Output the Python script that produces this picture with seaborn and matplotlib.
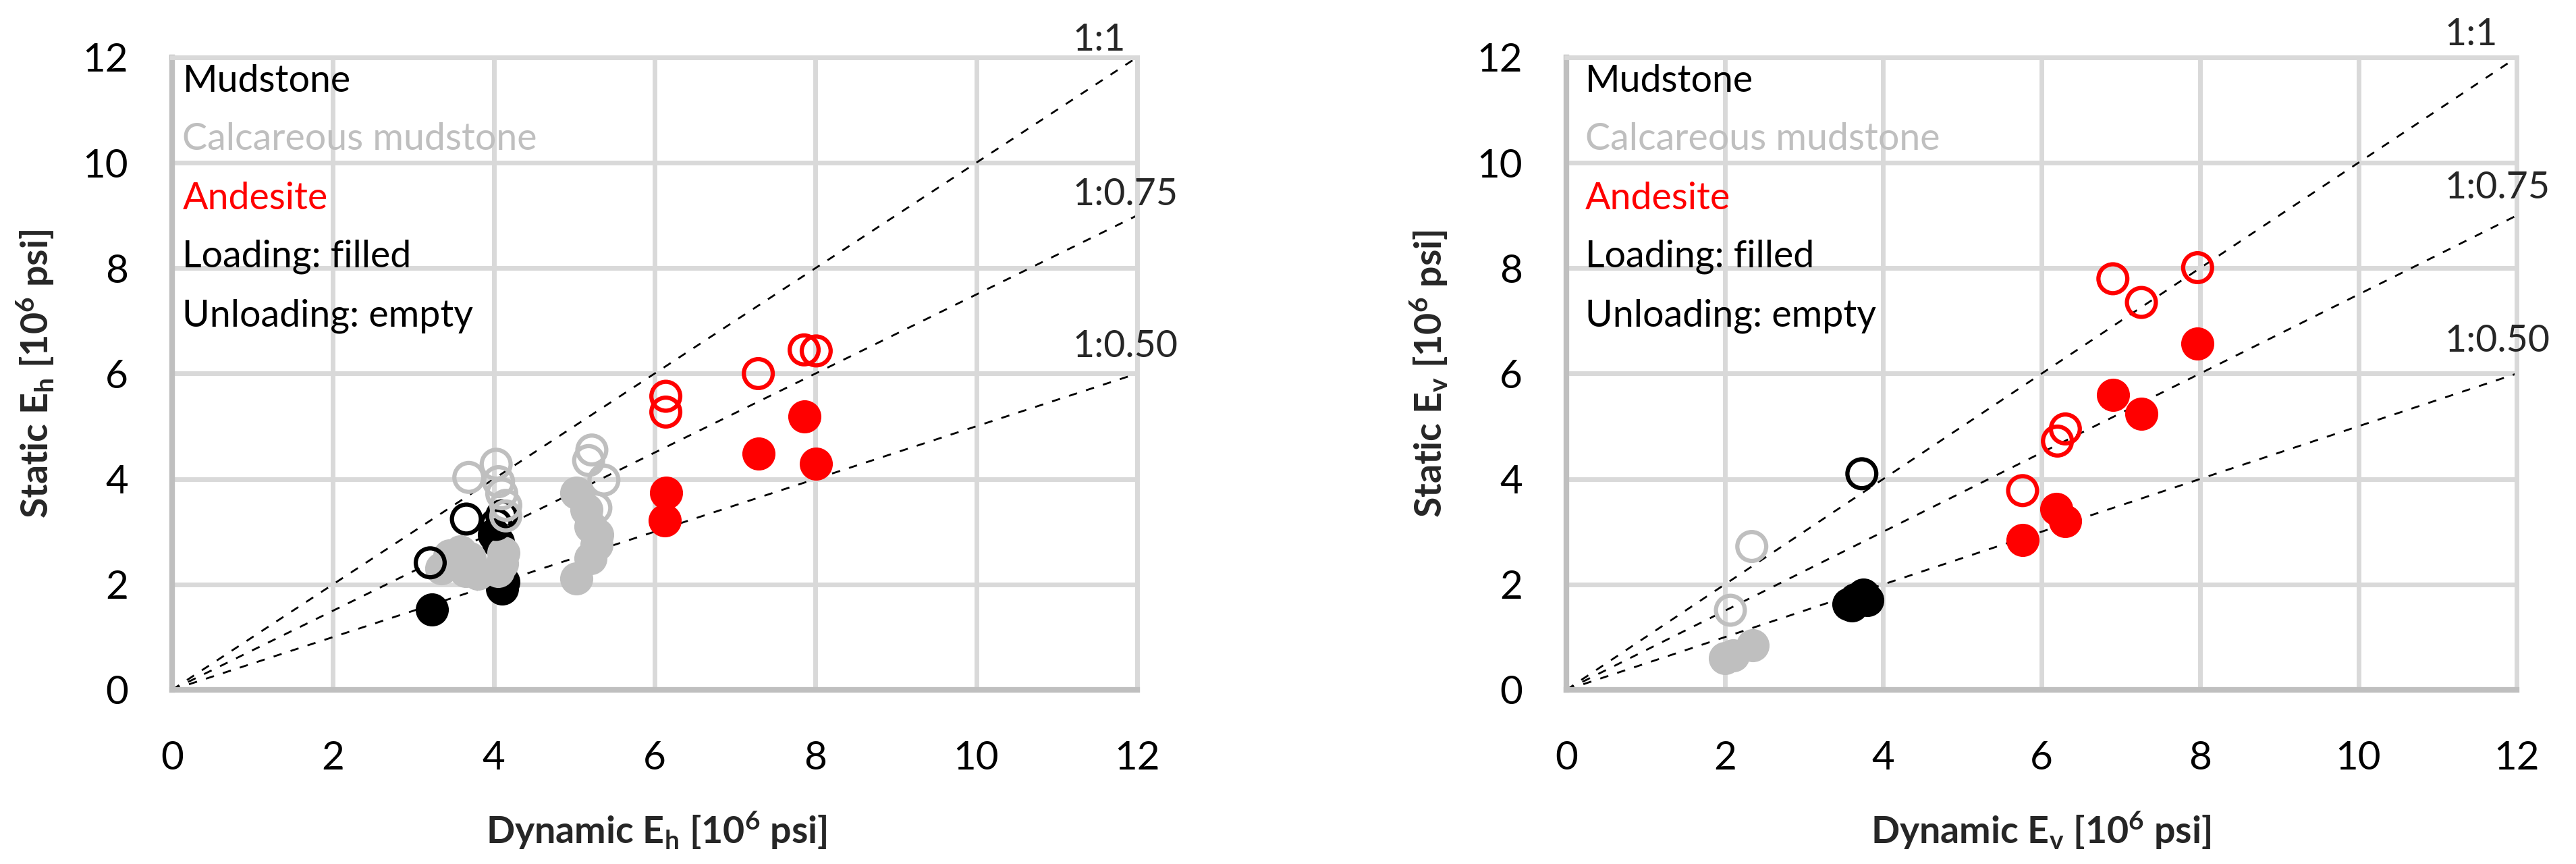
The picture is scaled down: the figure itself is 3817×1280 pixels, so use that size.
import numpy as np
import pandas as pd
import matplotlib
matplotlib.use('Agg')
import matplotlib.pyplot as plt
import seaborn as sns

# ---- data (10^6 psi) ----
rocks = ['Mudstone', 'Calcareous mudstone', 'Andesite']
rock_colors = {'Mudstone': '#000000', 'Calcareous mudstone': '#BFBFBF', 'Andesite': '#FF0000'}
ratios = [1.0, 0.75, 0.50]
ratio_labels = ['1:1', '1:0.75', '1:0.50']
ticks = [0, 2, 4, 6, 8, 10, 12]

# horizontal modulus
mud_load_h_dyn = [3.23, 4.10, 4.12, 4.05, 4.00]
mud_load_h_sta = [1.52, 1.92, 2.05, 2.80, 2.95]
mud_unload_h_dyn = [3.21, 3.66, 4.03, 4.10]
mud_unload_h_sta = [2.41, 3.24, 3.14, 3.30]
calc_load_h_dyn = [3.35, 3.45, 3.58, 3.70, 3.65, 3.80, 4.10, 4.12, 4.05,
                   5.03, 5.15, 5.20, 5.29, 5.28, 5.20, 5.03]
calc_load_h_sta = [2.30, 2.55, 2.62, 2.50, 2.25, 2.20, 2.40, 2.60, 2.25,
                   3.74, 3.42, 3.10, 2.95, 2.75, 2.50, 2.11]
calc_unload_h_dyn = [3.69, 4.03, 4.06, 4.10, 4.15, 4.15, 5.22, 5.18, 5.37, 5.27]
calc_unload_h_sta = [4.03, 4.28, 3.95, 3.72, 3.50, 3.30, 4.55, 4.35, 3.98, 3.45]
and_load_h_dyn = [6.14, 6.13, 7.29, 7.86, 8.01]
and_load_h_sta = [3.74, 3.22, 4.48, 5.19, 4.29]
and_unload_h_dyn = [6.14, 6.14, 7.29, 7.86, 8.01]
and_unload_h_sta = [5.57, 5.27, 6.00, 6.45, 6.43]

# vertical modulus
mud_load_v_dyn = [3.56, 3.65, 3.75, 3.80, 3.60]
mud_load_v_sta = [1.63, 1.72, 1.80, 1.70, 1.60]
mud_unload_v_dyn = [3.73]
mud_unload_v_sta = [4.10]
calc_load_v_dyn = [2.00, 2.10, 2.35]
calc_load_v_sta = [0.60, 0.65, 0.85]
calc_unload_v_dyn = [2.34, 2.07]
calc_unload_v_sta = [2.72, 1.51]
and_load_v_dyn = [5.76, 6.19, 6.30, 6.90, 7.26, 7.97]
and_load_v_sta = [2.84, 3.43, 3.20, 5.60, 5.24, 6.57]
and_unload_v_dyn = [5.76, 6.20, 6.30, 6.90, 7.26, 7.97]
and_unload_v_sta = [3.78, 4.72, 4.95, 7.80, 7.35, 8.01]


def build(groups):
    rows = []
    for rock, phase, dyn, sta in groups:
        for d, s in zip(dyn, sta):
            rows.append({'rock': rock, 'phase': phase, 'dyn': d, 'sta': s})
    return pd.DataFrame(rows)


df_h = build([
    ('Mudstone', 'load', mud_load_h_dyn, mud_load_h_sta),
    ('Mudstone', 'unload', mud_unload_h_dyn, mud_unload_h_sta),
    ('Calcareous mudstone', 'load', calc_load_h_dyn, calc_load_h_sta),
    ('Calcareous mudstone', 'unload', calc_unload_h_dyn, calc_unload_h_sta),
    ('Andesite', 'load', and_load_h_dyn, and_load_h_sta),
    ('Andesite', 'unload', and_unload_h_dyn, and_unload_h_sta),
])
df_v = build([
    ('Mudstone', 'load', mud_load_v_dyn, mud_load_v_sta),
    ('Mudstone', 'unload', mud_unload_v_dyn, mud_unload_v_sta),
    ('Calcareous mudstone', 'load', calc_load_v_dyn, calc_load_v_sta),
    ('Calcareous mudstone', 'unload', calc_unload_v_dyn, calc_unload_v_sta),
    ('Andesite', 'load', and_load_v_dyn, and_load_v_sta),
    ('Andesite', 'unload', and_unload_v_dyn, and_unload_v_sta),
])

sns.set_theme(style='white')
plt.rcParams['font.family'] = ['Lato', 'DejaVu Sans']
plt.rcParams['mathtext.default'] = 'regular'

fs = 40
fig = plt.figure(figsize=(38.17, 12.8), dpi=100)
ax1 = fig.add_axes([0.0668, 0.2016, 0.3746, 0.732])
ax2 = fig.add_axes([0.6081, 0.2016, 0.3689, 0.732])


def draw(ax, df, sub, lab_x, ylab_x, ratio_x, ratio_y, legend_x):
    xs = np.array([0, 12])
    for r in ratios:
        sns.lineplot(x=xs, y=r * xs, ax=ax, color='black', lw=2,
                     dashes=False, zorder=2).lines[-1].set_dashes((4.5, 5))
    for rock in rocks:
        d = df[(df.rock == rock) & (df.phase == 'load')]
        sns.scatterplot(data=d, x='dyn', y='sta', ax=ax, color=rock_colors[rock],
                        s=1250, linewidth=0, legend=False, zorder=3)
    for rock in rocks:
        d = df[(df.rock == rock) & (df.phase == 'unload')]
        sns.scatterplot(data=d, x='dyn', y='sta', ax=ax, color=rock_colors[rock],
                        s=950, linewidth=4.5, legend=False, zorder=4)
        coll = ax.collections[-1]
        coll.set_facecolor('none')
        coll.set_edgecolor(rock_colors[rock])

    ax.set_xlim(0, 12)
    ax.set_ylim(0, 12)
    ax.set_xticks(ticks)
    ax.set_yticks(ticks)
    ax.grid(True, color='#D9D9D9', lw=5)
    ax.set_axisbelow(True)
    for side in ['top', 'right']:
        ax.spines[side].set_color('#D9D9D9')
        ax.spines[side].set_linewidth(5)
    for side in ['left', 'bottom']:
        ax.spines[side].set_color('#BFBFBF')
        ax.spines[side].set_linewidth(6)
    ax.tick_params(axis='both', length=0, labelsize=42, colors='black')
    ax.tick_params(axis='x', pad=54)
    ax.tick_params(axis='y', pad=47)

    ax.set_xlabel('Dynamic E$_{%s}$ [10$^6$ psi]' % sub, fontsize=fs,
                  fontweight='bold', va='center')
    ax.set_ylabel('Static E$_{%s}$ [10$^6$ psi]' % sub, fontsize=fs,
                  fontweight='bold', va='center')
    ax.xaxis.set_label_coords(lab_x, -0.222)
    ax.yaxis.set_label_coords(ylab_x, 0.5)

    for lbl, y in zip(ratio_labels, ratio_y):
        ax.text(ratio_x, y, lbl, fontsize=fs, va='baseline', ha='left', clip_on=False)

    legend_items = [('Mudstone', 'black'), ('Calcareous mudstone', '#BFBFBF'),
                    ('Andesite', '#FF0000'), ('Loading: filled', 'black'),
                    ('Unloading: empty', 'black')]
    for (txt, c), y in zip(legend_items, [11.35, 10.25, 9.12, 8.02, 6.9]):
        ax.text(legend_x, y, txt, color=c, fontsize=fs, va='baseline', ha='left')


draw(ax1, df_h, 'h', 0.502, -0.142, 11.2, [12.13, 9.2, 6.31], 0.13)
draw(ax2, df_v, 'v', 0.499, -0.145, 11.09, [12.23, 9.32, 6.41], 0.24)

plt.savefig('out.png', dpi=100)
